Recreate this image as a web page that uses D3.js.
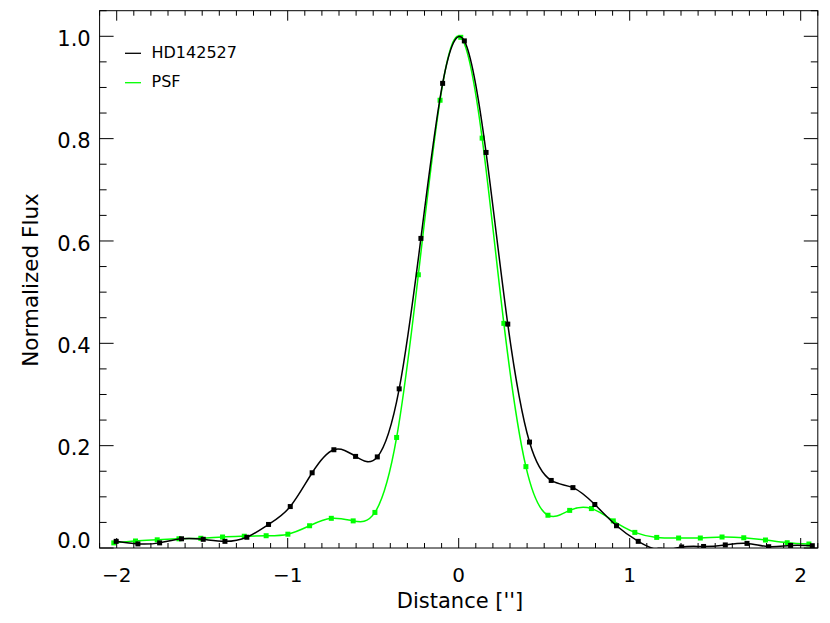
<!DOCTYPE html>
<html>
<head>
<meta charset="utf-8">
<script src="https://cdn.jsdelivr.net/npm/d3@7"></script>
<style>
  html, body { margin: 0; padding: 0; background: #fff; }
  svg { display: block; }
  text { font-family: "DejaVu Sans", sans-serif; fill: #000; }
</style>
</head>
<body>
<svg id="chart" width="830" height="623"></svg>
<script>
// ---- data ----
const hdX = [-2.003,-1.876,-1.749,-1.621,-1.494,-1.367,-1.239,-1.112,-0.985,-0.857,-0.730,-0.603,-0.476,-0.348,-0.221,-0.094,0.033,0.160,0.287,0.414,0.541,0.668,0.796,0.923,1.050,1.177,1.304,1.432,1.559,1.686,1.813,1.941,2.068];
const hdY = [0.013,0.008,0.010,0.018,0.017,0.013,0.021,0.046,0.081,0.147,0.192,0.179,0.178,0.311,0.605,0.908,0.991,0.773,0.4375,0.207,0.132,0.118,0.085,0.0435,0.013,-0.004,0.002,0.003,0.006,0.009,0.0025,0.005,0.0045];
const psfX = [-2.017,-1.890,-1.763,-1.636,-1.508,-1.381,-1.254,-1.126,-0.999,-0.872,-0.745,-0.617,-0.490,-0.363,-0.236,-0.109,0.012,0.137,0.264,0.393,0.522,0.649,0.776,0.904,1.030,1.158,1.286,1.413,1.540,1.667,1.794,1.921,2.048];
const psfY = [0.010,0.0137,0.016,0.018,0.019,0.0215,0.023,0.024,0.027,0.0435,0.058,0.053,0.0695,0.216,0.534,0.875,0.998,0.801,0.439,0.159,0.064,0.0735,0.077,0.053,0.0305,0.0207,0.0195,0.0195,0.0215,0.020,0.0156,0.0103,0.0078];
const seriesNames = ["HD142527", "PSF"];
const seriesColors = ["#000000", "#00ff00"];
const xTickValues = [-2, -1, 0, 1, 2];
const xTickLabels = ["\u22122", "\u22121", "0", "1", "2"];
const yTickValues = [0, 0.2, 0.4, 0.6, 0.8, 1.0];
const yTickLabels = ["0.0", "0.2", "0.4", "0.6", "0.8", "1.0"];
const xTitle = "Distance ['']";
const yTitle = "Normalized Flux";

// ---- layout ----
const L = 99.6, R = 817.8, T = 10.7, B = 548;
const x = d3.scaleLinear().domain([-2.1, 2.1]).range([L, R]);
const y = d3.scaleLinear().domain([0, 1.05]).range([B, T]);

const svg = d3.select("#chart");

svg.append("defs").append("clipPath").attr("id", "plotclip")
  .append("rect").attr("x", L).attr("y", T).attr("width", R - L).attr("height", B - T);

// ---- series ----
const series = [
  { name: seriesNames[0], color: seriesColors[0], xs: hdX, ys: hdY },
  { name: seriesNames[1], color: seriesColors[1], xs: psfX, ys: psfY }
];
const line = d3.line().x(d => x(d[0])).y(d => y(d[1])).curve(d3.curveNatural);
const plot = svg.append("g").attr("clip-path", "url(#plotclip)");

// draw PSF first, then HD on top
[series[1], series[0]].forEach(s => {
  const pts = s.xs.map((v, i) => [v, s.ys[i]]);
  plot.append("path").datum(pts)
    .attr("d", line).attr("fill", "none")
    .attr("stroke", s.color).attr("stroke-width", 1.5);
  plot.selectAll(null).data(pts).enter().append("rect")
    .attr("x", d => x(d[0]) - 2.5).attr("y", d => y(d[1]) - 2.5)
    .attr("width", 5).attr("height", 5).attr("fill", s.color);
});

// ---- frame & ticks ----
const ax = svg.append("g").attr("stroke", "#000").attr("stroke-width", 1);
ax.append("rect").attr("x", L).attr("y", T).attr("width", R - L).attr("height", B - T).attr("fill", "none");

const xMinor = d3.range(-21, 22).map(i => i / 10);
xMinor.forEach(v => {
  const major = Math.abs(v - Math.round(v)) < 1e-9;
  const len = major ? 10 : 5;
  ax.append("line").attr("x1", x(v)).attr("x2", x(v)).attr("y1", B).attr("y2", B - len);
  ax.append("line").attr("x1", x(v)).attr("x2", x(v)).attr("y1", T).attr("y2", T + len);
});
const yMinor = d3.range(0, 22).map(i => i * 0.05);
yMinor.forEach(v => {
  const major = Math.abs(v * 5 - Math.round(v * 5)) < 1e-9;
  const len = major ? 14 : 7;
  ax.append("line").attr("y1", y(v)).attr("y2", y(v)).attr("x1", L).attr("x2", L + len);
  ax.append("line").attr("y1", y(v)).attr("y2", y(v)).attr("x1", R).attr("x2", R - len);
});

// ---- tick labels ----
svg.selectAll(".xl").data(xTickValues).enter().append("text")
  .attr("x", d => x(d)).attr("y", 581.7)
  .attr("text-anchor", "middle").attr("font-size", 20)
  .text((d, i) => xTickLabels[i]);

svg.selectAll(".yl").data(yTickValues).enter().append("text")
  .attr("x", 90.7).attr("y", d => Math.min(y(d) + 9.7, B))
  .attr("text-anchor", "end").attr("font-size", 21)
  .text((d, i) => yTickLabels[i]);

// ---- axis titles ----
svg.append("text").attr("x", 460).attr("y", 608.3)
  .attr("text-anchor", "middle").attr("font-size", 21).text(xTitle);
svg.append("text")
  .attr("transform", "translate(37.5,280) rotate(-90)")
  .attr("text-anchor", "middle").attr("font-size", 21.5).text(yTitle);

// ---- legend ----
const lg = svg.append("g");
series.forEach((s, i) => {
  const yy = 53.3 + i * 29.4;
  lg.append("line").attr("x1", 125).attr("x2", 141).attr("y1", yy).attr("y2", yy)
    .attr("stroke", s.color).attr("stroke-width", 1.3);
  lg.append("text").attr("x", 151.5).attr("y", yy + 4.5)
    .attr("font-size", 16).text(s.name);
});
</script>
</body>
</html>
